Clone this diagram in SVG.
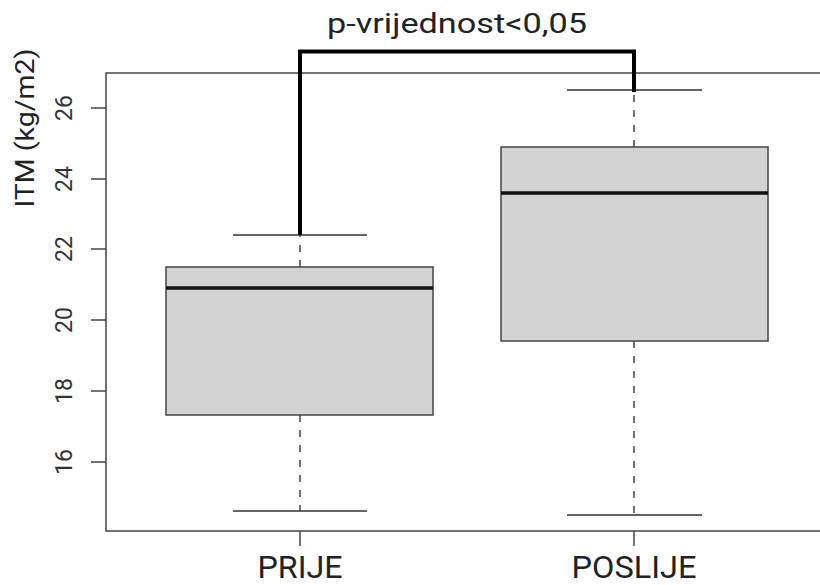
<svg xmlns="http://www.w3.org/2000/svg" width="820" height="585" viewBox="0 0 820 585">
<style>
.txt{font-family:Roboto,"Liberation Sans",Arial,sans-serif;fill:#222}
.tick{font-family:Roboto,"Liberation Sans",Arial,sans-serif;fill:#333;font-size:23px}
.ax{stroke:#444;stroke-width:1.5;fill:none}
.box{fill:#d3d3d3;stroke:#444;stroke-width:1.5}
.med{stroke:#111;stroke-width:3.5}
.wh{stroke:#444;stroke-width:1.5;stroke-dasharray:7,8;fill:none}
.cap{stroke:#333;stroke-width:1.5}
.br{stroke:#000;stroke-width:4;fill:none;stroke-linejoin:miter}
</style>
<rect width="820" height="585" fill="#fff"/>
<g id="axes">
<rect x="106" y="73" width="730" height="458" class="ax"/>
<path class="ax" d="M91,108H106M91,179H106M91,249H106M91,320H106M91,391H106M91,462H106M300,531V546M634,531V546"/>
<text class="tick" text-anchor="middle" transform="translate(72,108) rotate(-90)">26</text>
<text class="tick" text-anchor="middle" transform="translate(72,179) rotate(-90)">24</text>
<text class="tick" text-anchor="middle" transform="translate(72,249) rotate(-90)">22</text>
<text class="tick" text-anchor="middle" transform="translate(72,320) rotate(-90)">20</text>
<text class="tick" text-anchor="middle" transform="translate(72,391) rotate(-90)">18</text>
<text class="tick" text-anchor="middle" transform="translate(72,462) rotate(-90)">16</text>
<text class="txt" font-size="25" text-anchor="middle" textLength="159" lengthAdjust="spacingAndGlyphs" transform="translate(34,128) rotate(-90)">ITM (kg/m2)</text>
<text class="txt" font-size="32" x="300" y="578" text-anchor="middle" textLength="85" lengthAdjust="spacingAndGlyphs">PRIJE</text>
<text class="txt" font-size="32" x="634" y="578" text-anchor="middle" textLength="125" lengthAdjust="spacingAndGlyphs">POSLIJE</text>
</g>
<g id="box-prije">
<path class="wh" d="M300,415V511M300,267V235"/>
<path class="cap" d="M233,511H367M233,235H367"/>
<rect class="box" x="166" y="267" width="267" height="148"/>
<line class="med" x1="166" y1="288" x2="433" y2="288"/>
</g>
<g id="box-poslije">
<path class="wh" d="M634,341V515M634,147V90"/>
<path class="cap" d="M567,515H702M567,90H702"/>
<rect class="box" x="501" y="147" width="267" height="194"/>
<line class="med" x1="501" y1="193" x2="768" y2="193"/>
</g>
<g id="connectors">
<path class="br" d="M300,235V51.5H634V92"/>
</g>
<g id="label">
<text class="txt" font-size="27" x="457" y="33" text-anchor="middle" textLength="260" lengthAdjust="spacingAndGlyphs">p-vrijednost&lt;0,05</text>
</g>
</svg>
